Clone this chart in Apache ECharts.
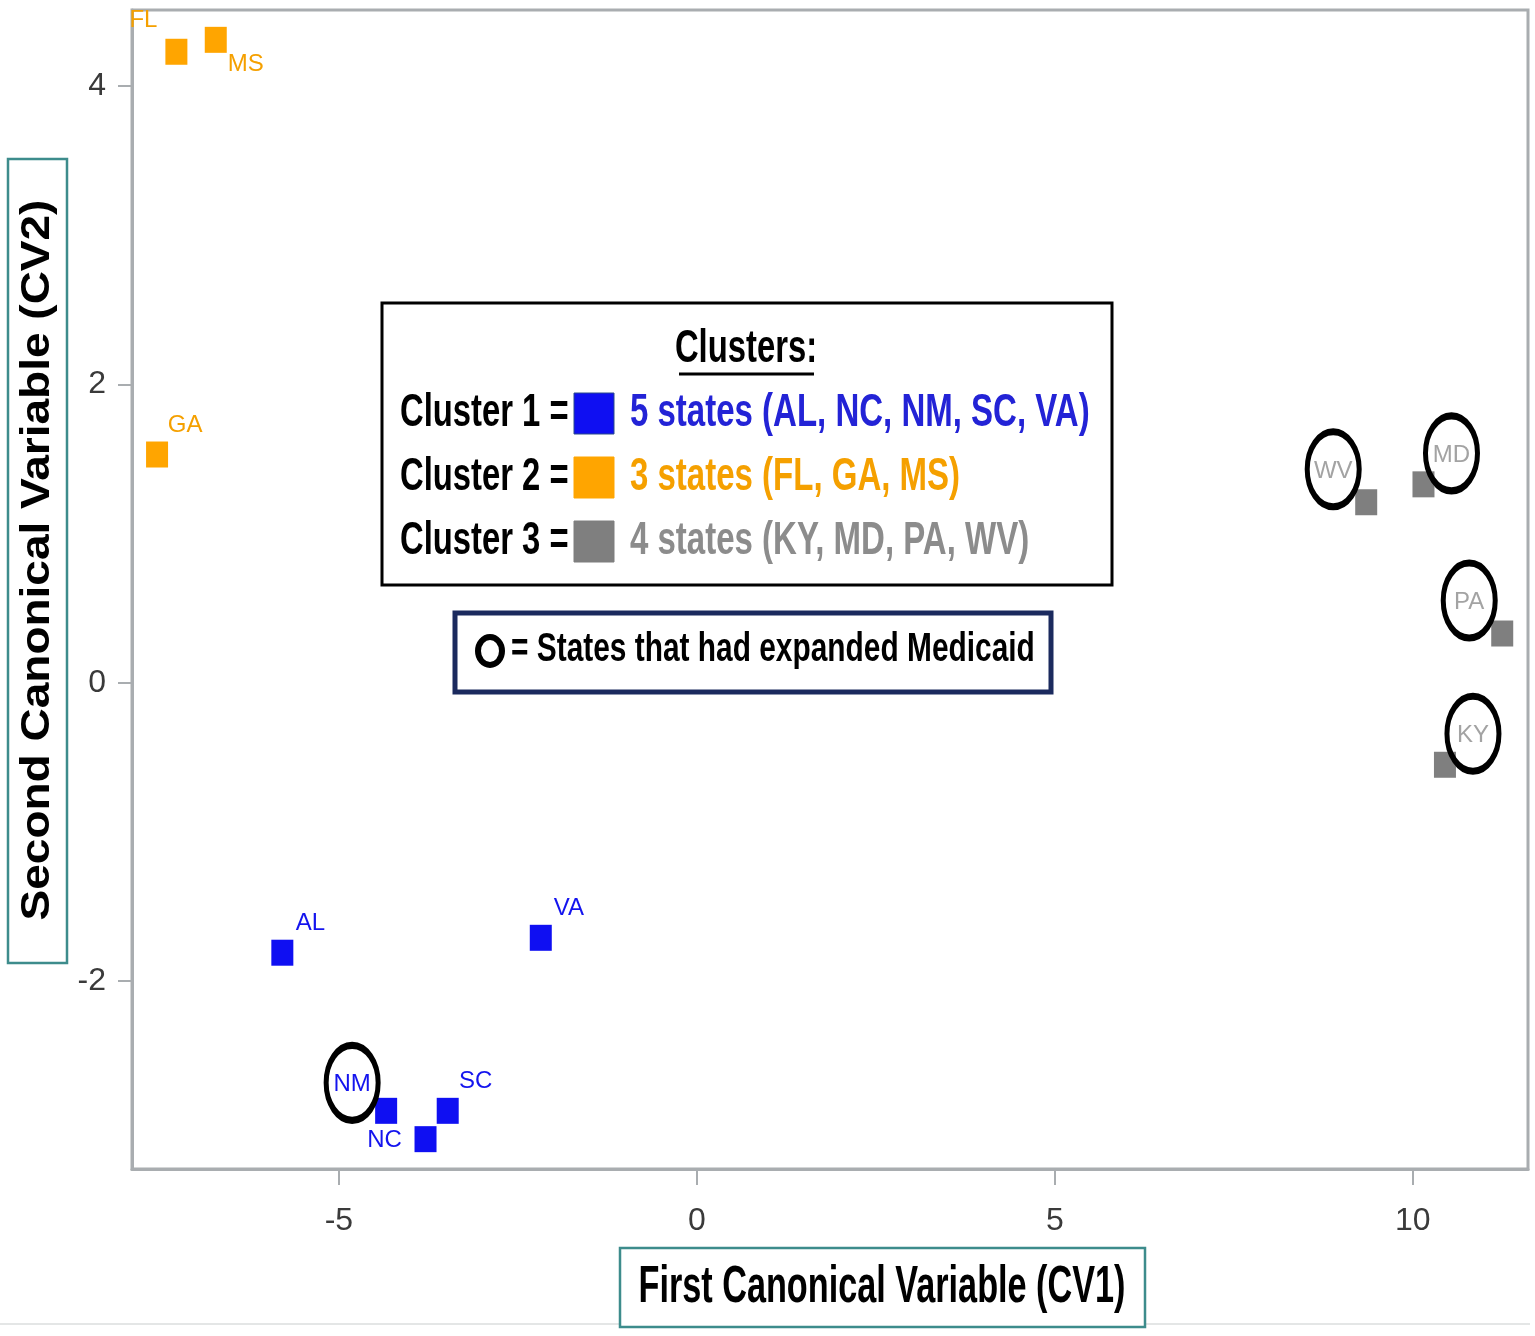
<!DOCTYPE html>
<html>
<head>
<meta charset="utf-8">
<title>Canonical variables by cluster</title>
<script src="https://cdn.jsdelivr.net/npm/echarts@6/dist/echarts.min.js"></script>
<style>
html, body { margin: 0; padding: 0; background: #fff; }
#chart { width: 1535px; height: 1336px; }
</style>
</head>
<body>
<div id="chart"></div>
<script>
// scores
var states   = ['AL', 'NC', 'NM', 'SC', 'VA', 'FL', 'GA', 'MS', 'KY', 'MD', 'PA', 'WV'];
var cv1      = [-5.79, -3.79, -4.34, -3.48, -2.18, -7.27, -7.54, -6.72, 10.45, 10.15, 11.25, 9.35];
var cv2      = [-1.81, -3.06, -2.87, -2.87, -1.71, 4.23, 1.53, 4.31, -0.55, 1.33, 0.33, 1.21];
var cluster  = [1, 1, 1, 1, 1, 2, 2, 2, 3, 3, 3, 3];
var expanded = ['KY', 'MD', 'PA', 'WV', 'NM'];
var clusterIds = [1, 2, 3];
var xTicks = [-5, 0, 5, 10];
var yTicks = [-2, 0, 2, 4];

// styling
var markColor  = {1: '#0f0ff2', 2: '#ffa500', 3: '#7f7f7f'};
var labelColor = {1: '#1414ee', 2: '#f5a000', 3: '#a3a3a3'};
var textColor  = {1: '#2323d6', 2: '#f5a000', 3: '#8c8c8c'};
var labelSide  = {AL: 'ur', NC: 'l', NM: 'ulb', SC: 'ur', VA: 'ur', FL: 'ul', GA: 'ur', MS: 'lr',
                  KY: 'ur', MD: 'ur', PA: 'ul', WV: 'ul'};
var sideOffset = {ur: [28, -29], ul: [-33, -31], ulb: [-34, -26], lr: [30, 25], l: [-41, 1]};
var axisGray = '#a9adb0';
var teal = '#3d8c8c';
var NARROW = '"Liberation Sans Narrow","Arial Narrow",sans-serif';

function pointsOf(c) {
    var out = [];
    for (var i = 0; i < states.length; i++) {
        if (cluster[i] !== c) continue;
        out.push({
            name: states[i],
            value: [cv1[i], cv2[i]],
            label: {offset: sideOffset[labelSide[states[i]]]}
        });
    }
    return out;
}

function circlesOf() {
    var out = [];
    for (var i = 0; i < states.length; i++) {
        if (expanded.indexOf(states[i]) < 0) continue;
        var off = sideOffset[labelSide[states[i]]];
        out.push({name: states[i], value: [cv1[i], cv2[i]], symbolOffset: [off[0], off[1] - 2]});
    }
    return out;
}

var series = clusterIds.map(function(c) {
    return {
        name: 'Cluster ' + c,
        type: 'scatter',
        symbol: 'rect',
        symbolSize: [22, 26],
        itemStyle: {color: markColor[c], opacity: 1},
        label: {
            show: true,
            position: 'inside',
            formatter: '{b}',
            color: labelColor[c],
            fontFamily: '"Liberation Sans", Arial, sans-serif',
            fontSize: 24
        },
        data: pointsOf(c)
    };
});

series.push({
    name: 'Expanded Medicaid',
    type: 'scatter',
    symbol: 'circle',
    symbolSize: [52, 75],
    silent: true,
    z: 5,
    itemStyle: {color: 'rgba(0,0,0,0)', borderColor: '#000', borderWidth: 6, opacity: 1},
    data: circlesOf()
});

function txt(x, y, s, font, fill, align, sx, sy) {
    return {type: 'text', x: x, y: y, scaleX: sx, scaleY: sy, z: 11,
        style: {text: s, font: font, fill: fill, align: align, verticalAlign: 'middle',
                textAlign: align, textVerticalAlign: 'middle'}};
}

// legend built from the cluster arrays
var graphics = [];
graphics.push({type: 'rect', shape: {x: 382, y: 303, width: 730, height: 282},
    style: {fill: '#fff', stroke: '#000', lineWidth: 3}, z: 10});
graphics.push(txt(746, 349, 'Clusters:', 'bold 40px ' + NARROW, '#000', 'center', 0.82, 1.15));
graphics.push({type: 'line', shape: {x1: 679, y1: 374, x2: 814, y2: 374},
    style: {stroke: '#000', lineWidth: 3}, z: 11});

clusterIds.forEach(function(c, k) {
    var cy = 413 + k * 64;
    var members = [];
    for (var i = 0; i < states.length; i++) if (cluster[i] === c) members.push(states[i]);
    members.sort();
    graphics.push(txt(400, cy, 'Cluster ' + c + ' =', 'bold 40px ' + NARROW, '#000', 'left', 0.82, 1.15));
    graphics.push({type: 'rect', shape: {x: 574, y: cy - 20, width: 40, height: 41},
        style: {fill: markColor[c], stroke: c === 1 ? '#2a4a8a' : markColor[c], lineWidth: 1}, z: 11});
    graphics.push(txt(630, cy, members.length + ' states (' + members.join(', ') + ')',
        'bold 40px ' + NARROW, textColor[c], 'left', 0.825, 1.15));
});

graphics.push({type: 'rect', shape: {x: 455, y: 613, width: 596, height: 79},
    style: {fill: '#fff', stroke: '#1b2a5e', lineWidth: 5}, z: 10});
graphics.push({type: 'ellipse', shape: {cx: 490, cy: 651, rx: 12, ry: 14},
    style: {fill: 'none', stroke: '#000', lineWidth: 6}, z: 11});
graphics.push(txt(511, 650, '= States that had expanded Medicaid', 'bold 36px ' + NARROW, '#000', 'left', 0.83, 1.12));

// axis titles in boxes
graphics.push({type: 'rect', shape: {x: 8, y: 159, width: 59, height: 804},
    style: {fill: 'none', stroke: teal, lineWidth: 2.5}, z: 10});
graphics.push({type: 'text', x: 38, y: 560, rotation: Math.PI / 2, scaleX: 1.15, z: 11,
    style: {text: 'Second Canonical Variable (CV2)', font: 'bold 40px "Liberation Sans", Arial, sans-serif',
            fill: '#000', align: 'center', verticalAlign: 'middle', textAlign: 'center', textVerticalAlign: 'middle'}});
graphics.push({type: 'rect', shape: {x: 620, y: 1248, width: 525, height: 79},
    style: {fill: '#fff', stroke: teal, lineWidth: 2.5}, z: 10});
graphics.push(txt(882, 1288, 'First Canonical Variable (CV1)', 'bold 42px ' + NARROW, '#000', 'center', 0.815, 1.22));
graphics.push({type: 'line', shape: {x1: 0, y1: 1324, x2: 1530, y2: 1324},
    style: {stroke: '#e4e6e6', lineWidth: 2}, z: 1});

var myChart = echarts.init(document.getElementById('chart'));
myChart.setOption({
    backgroundColor: '#fff',
    animation: false,
    grid: {left: 132, right: 7, top: 10, bottom: 167, show: true, borderColor: axisGray, borderWidth: 3},
    xAxis: {
        type: 'value', min: -7.89, max: 11.61,
        axisLine: {show: true, onZero: false, lineStyle: {color: axisGray, width: 3}},
        axisTick: {show: true, length: 16, customValues: xTicks, lineStyle: {color: axisGray, width: 2}},
        axisLabel: {customValues: xTicks, margin: 36, color: '#3a3a3a', fontFamily: NARROW, fontSize: 32},
        splitLine: {show: false}
    },
    yAxis: {
        type: 'value', min: -3.26, max: 4.51,
        axisLine: {show: true, onZero: false, lineStyle: {color: axisGray, width: 3}},
        axisTick: {show: true, length: 14, customValues: yTicks, lineStyle: {color: axisGray, width: 2}},
        axisLabel: {customValues: yTicks, margin: 26, color: '#3a3a3a', fontFamily: NARROW, fontSize: 32},
        splitLine: {show: false}
    },
    graphic: graphics,
    series: series
});
</script>
</body>
</html>
